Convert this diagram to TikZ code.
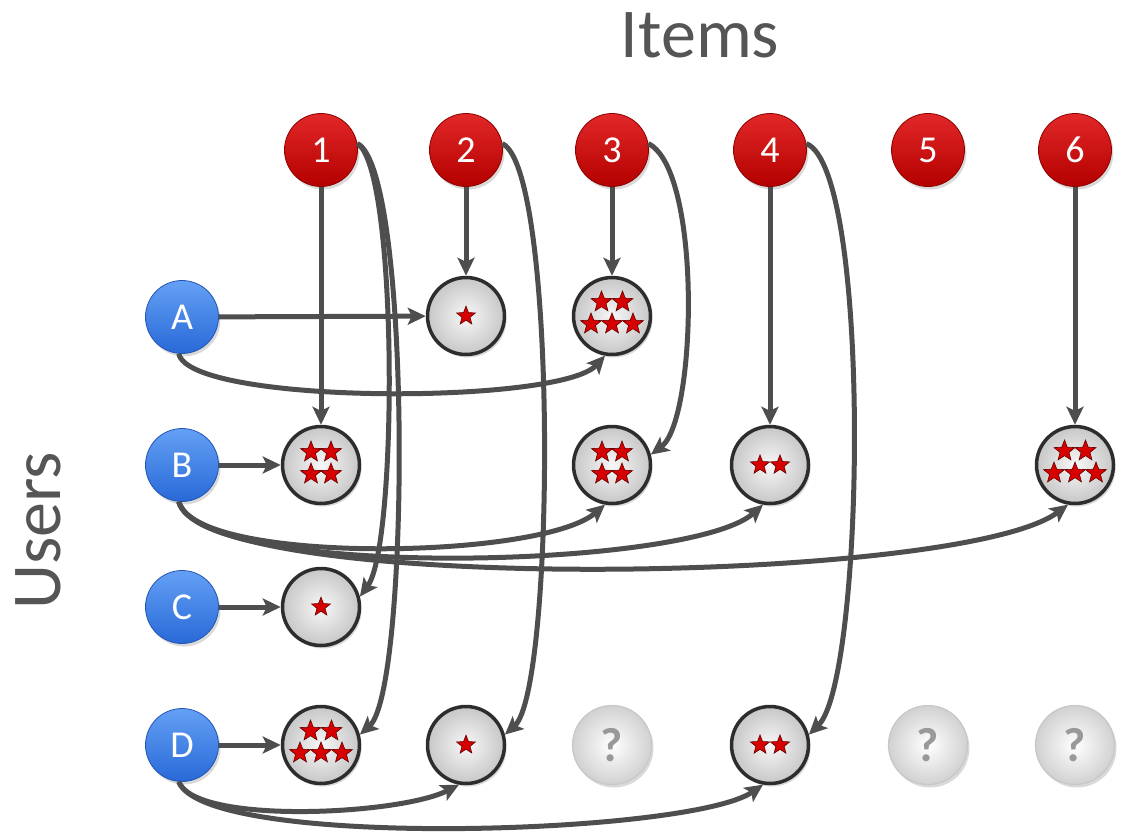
\documentclass[tikz,border=0pt]{standalone}
\usepackage{fontspec}
\setmainfont{Carlito}
\usetikzlibrary{arrows.meta,shadows}
\definecolor{itemtop}{RGB}{226,40,40}
\definecolor{itembot}{RGB}{180,0,0}
\definecolor{itemedge}{RGB}{140,0,0}
\definecolor{usertop}{RGB}{100,160,245}
\definecolor{userbot}{RGB}{40,105,215}
\definecolor{useredge}{RGB}{35,85,180}
\definecolor{linegray}{RGB}{78,78,78}
\definecolor{titlegray}{RGB}{85,85,85}
\definecolor{ringgray}{RGB}{45,45,45}
\definecolor{starred}{RGB}{215,0,0}
\definecolor{stardark}{RGB}{100,0,0}
\tikzset{
  shad/.style={drop shadow={opacity=0.3, shadow xshift=2pt, shadow yshift=-3pt}},
  item/.style={circle, minimum size=73pt, inner sep=0pt, top color=itemtop, bottom color=itembot,
    draw=itemedge, line width=0.8pt, text=white, font=\fontsize{38}{40}\selectfont, shad},
  user/.style={circle, minimum size=73pt, inner sep=0pt, top color=usertop, bottom color=userbot,
    draw=useredge, line width=0.8pt, text=white, font=\fontsize{38}{40}\selectfont, shad},
  rating/.style={circle, minimum size=77pt, inner sep=0pt, inner color=white!97!black,
    outer color=black!22, draw=ringgray, line width=3.5pt, shad},
  unknown/.style={circle, minimum size=79pt, inner sep=0pt, inner color=white,
    outer color=black!18, draw=black!22, line width=1.2pt, text=black!40,
    font=\fontsize{48}{50}\selectfont\bfseries, shad},
  link/.style={line width=5pt, draw=linegray, -{Stealth[length=18pt,width=17pt,inset=4pt]}},
  title/.style={font=\fontsize{70}{80}\selectfont, text=titlegray},
  starfill/.style={fill=starred, draw=stardark, line width=0.6pt},
  rstar/.pic={\filldraw[starfill] (90:11pt) -- (126:4.7pt) -- (162:11pt) -- (198:4.7pt) -- (234:11pt)
     -- (270:4.7pt) -- (306:11pt) -- (342:4.7pt) -- (18:11pt) -- (54:4.7pt) -- cycle;},
  stars1/.pic={\pic[scale=0.9] at (0pt,0pt) {rstar};},
  stars2/.pic={\pic[scale=0.92] at (-10pt,0pt) {rstar}; \pic[scale=0.92] at (10pt,0pt) {rstar};},
  stars4/.pic={\pic at (-10pt,13pt) {rstar}; \pic at (10pt,13pt) {rstar};
               \pic at (-10pt,-9pt) {rstar}; \pic at (10pt,-9pt) {rstar};},
  stars5/.pic={\pic at (-10.5pt,14pt) {rstar}; \pic at (10.5pt,14pt) {rstar};
               \pic at (-21pt,-8pt) {rstar}; \pic at (0pt,-8pt) {rstar}; \pic at (21pt,-8pt) {rstar};},
}
\begin{document}
\begin{tikzpicture}[x=1pt,y=-1pt]
\useasboundingbox (0,0) rectangle (1121,836);
% titles
\node[title, anchor=base] (items) at (700,57) {Items};
\node[title, anchor=base, rotate=90] (users) at (60,531) {Users};
% items
\node[item] (I1) at (321,150) {1};
\node[item] (I2) at (466,150) {2};
\node[item] (I3) at (612,150) {3};
\node[item] (I4) at (770,150) {4};
\node[item] (I5) at (928,150) {5};
\node[item] (I6) at (1075,150) {6};
% users
\node[user] (UA) at (182,317) {A};
\node[user] (UB) at (182,465) {B};
\node[user] (UC) at (182,607) {C};
\node[user] (UD) at (182,745) {D};
% ratings
\node[rating] (rA2) at (466,316) {};
\node[rating] (rA3) at (612,316) {};
\node[rating] (rB1) at (321,465) {};
\node[rating] (rB3) at (612,465) {};
\node[rating] (rB4) at (770,465) {};
\node[rating] (rB6) at (1075,465) {};
\node[rating] (rC1) at (321,607) {};
\node[rating] (rD1) at (321,745) {};
\node[rating] (rD2) at (466,745) {};
\node[unknown] (rD3) at (612,745) {?};
\node[rating] (rD4) at (770,745) {};
\node[unknown] (rD5) at (928,745) {?};
\node[unknown] (rD6) at (1075,745) {?};
% stars
\pic at (rA2) {stars1};
\pic at (rA3) {stars5};
\pic at (rB1) {stars4};
\pic at (rB3) {stars4};
\pic at (rB4) {stars2};
\pic at (rB6) {stars5};
\pic at (rC1) {stars1};
\pic at (rD1) {stars5};
\pic at (rD2) {stars1};
\pic at (rD4) {stars2};
% straight links
\draw[link] (I1) -- (rB1);
\draw[link] (I2) -- (rA2);
\draw[link] (I3) -- (rA3);
\draw[link] (I4) -- (rB4);
\draw[link] (I6) -- (rB6);
\draw[link] (UA) -- (rA2);
\draw[link] (UB) -- (rB1);
\draw[link] (UC) -- (rC1);
\draw[link] (UD) -- (rD1);
% curved links from items
\draw[link] (I1.10) .. controls (398,168) and (398,545) .. (rC1.15);
\draw[link] (I1.10) .. controls (412,170) and (410,690) .. (rD1.15);
\draw[link] (I2.10) .. controls (558,170) and (555,690) .. (rD2.15);
\draw[link] (I3.10) .. controls (702,170) and (697,420) .. (rB3.15);
\draw[link] (I4.10) .. controls (872,170) and (865,680) .. (rD4.15);
% curved links from users
\draw[link] (UA.-95) .. controls (190,405) and (560,405) .. (rA3.-100);
\draw[link] (UB.-95) .. controls (195,565) and (540,560) .. (rB3.-100);
\draw[link] (UB.-95) .. controls (200,580) and (690,570) .. (rB4.-100);
\draw[link] (UB.-95) .. controls (205,595) and (960,585) .. (rB6.-100);
\draw[link] (UD.-95) .. controls (195,825) and (400,815) .. (rD2.-100);
\draw[link] (UD.-95) .. controls (205,850) and (690,835) .. (rD4.-100);
\end{tikzpicture}
\end{document}
